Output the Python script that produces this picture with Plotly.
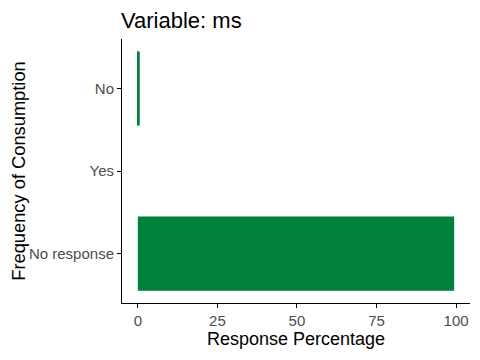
import plotly.graph_objects as go

categories = ["No response", "Yes", "No"]
percentages = [99.4, 0.0, 0.6]

# page body has an 8px margin; size the figure so the plot lands where the reference has it
W, H = 472, 352

fig = go.Figure()
fig.add_trace(go.Bar(
    x=percentages, y=categories, orientation="h",
    marker=dict(color="#00813A", line=dict(width=0)),
    width=0.9,
))

font = "Liberation Sans, Arial, sans-serif"
fig.update_layout(
    width=W, height=H,
    margin=dict(l=114, r=10, t=31, b=57),
    plot_bgcolor="white", paper_bgcolor="white",
    showlegend=False,
    title=dict(text="Variable: ms", x=113/W, xanchor="left", y=1-12/H, yanchor="middle",
               font=dict(family=font, size=22, color="black")),
    font=dict(family=font),
)
fig.update_xaxes(
    range=[-4.97, 104.37], tickvals=[0, 25, 50, 75, 100],
    showgrid=False, zeroline=False, automargin=False,
    showline=True, linecolor="black", linewidth=1,
    ticks="outside", ticklen=4, tickcolor="black",
    tickfont=dict(family=font, size=15, color="#4D4D4D"),
    title=dict(text="Response Percentage", font=dict(family=font, size=18, color="black"), standoff=2),
)
fig.update_yaxes(
    categoryorder="array", categoryarray=categories, range=[-0.6, 2.6],
    showgrid=False, zeroline=False, automargin=False,
    showline=True, linecolor="black", linewidth=1,
    ticks="outside", ticklen=4, tickcolor="black",
    tickfont=dict(family=font, size=15, color="#4D4D4D"),
    title=dict(text="Frequency of Consumption", font=dict(family=font, size=18.3, color="black"), standoff=4),
)
fig.write_html("out.html")
